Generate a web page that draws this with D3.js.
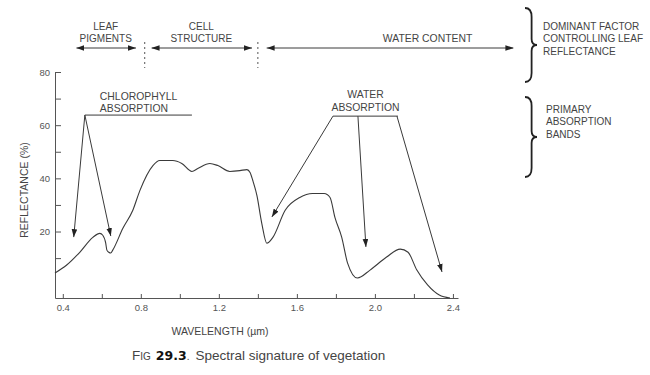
<!DOCTYPE html>
<html>
<head>
<meta charset="utf-8">
<script src="https://cdn.jsdelivr.net/npm/d3@7"></script>
<style>
  body { margin: 0; background: #fff; }
  svg { font-family: "Liberation Sans", Arial, sans-serif; }
</style>
</head>
<body>
<div id="chart"></div>
<script>
// reflectance curve of green vegetation
const wavelength = [0.36, 0.42, 0.487, 0.554, 0.59, 0.605, 0.62, 0.626, 0.636, 0.646, 0.656, 0.708, 0.759, 0.795,
  0.862, 0.897, 0.964, 1.01, 1.062, 1.092, 1.154, 1.195, 1.256, 1.308, 1.344, 1.36, 1.374, 1.395, 1.42, 1.446,
  1.477, 1.54, 1.615, 1.68, 1.74, 1.77, 1.795, 1.83, 1.86, 1.91, 1.975, 2.06, 2.13, 2.17, 2.215, 2.27, 2.33, 2.385];
const reflectance = [4.4, 7.4, 12.2, 17.8, 19.3, 18.6, 15.6, 13.0, 12.2, 11.9, 13.0, 21.2, 28.0, 35.4,
  44.8, 46.7, 46.7, 45.6, 42.6, 43.7, 45.6, 44.8, 42.6, 42.9, 43.3, 42.2, 39.2, 33.6, 23.1, 15.6,
  17.8, 28.0, 32.8, 34.3, 34.3, 32.8, 25.3, 17.8, 8.1, 2.5, 5.5, 10.4, 13.4, 12.2, 5.5, -0.1, -3.9, -5];

const xTicks = [0.4, 0.6, 0.8, 1.0, 1.2, 1.4, 1.6, 1.8, 2.0, 2.2, 2.4];
const xLabels = [0.4, 0.8, 1.2, 1.6, 2.0, 2.4];
const yTicks = [10, 20, 30, 40, 50, 60, 70, 80];
const yLabels = [20, 40, 60, 80];

// dominant factor bands along the top (wavelength units)
const bandNames = [["LEAF", "PIGMENTS"], ["CELL", "STRUCTURE"], ["WATER CONTENT"]];
const bandStart = [0.47, 0.855, 1.445];
const bandEnd = [0.775, 1.37, 2.71];
const bandLabelAt = [0.62, 1.11, 2.27];
const bandDividers = [0.82, 1.40];

// absorption callouts: [wavelength, reflectance]
const chloroBar = [[0.513, 63.8], [1.062, 63.8]];
const chloroFrom = [[0.513, 63.8], [0.513, 63.8]];
const chloroTo = [[0.456, 17.9], [0.646, 18.3]];
const waterBar = [[1.785, 63.4], [2.118, 63.4]];
const waterFrom = [[1.785, 63.4], [1.913, 63.4], [2.113, 63.4]];
const waterTo = [[1.472, 25.5], [1.954, 14.2], [2.344, 4.8]];

const sideNotes = [["DOMINANT FACTOR", "CONTROLLING LEAF", "REFLECTANCE"], ["PRIMARY", "ABSORPTION", "BANDS"]];

const width = 650, height = 375;
const ink = "#3a3a3a", textInk = "#444";

const x = d3.scaleLinear().domain([0.36, 2.426]).range([55, 458]);
const y = d3.scaleLinear().domain([-5, 80]).range([298, 72]);

const svg = d3.select("#chart").append("svg")
  .attr("width", width)
  .attr("height", height);

// arrowhead
svg.append("defs").append("marker")
  .attr("id", "head")
  .attr("viewBox", "0 -3 8 6")
  .attr("refX", 8)
  .attr("refY", 0)
  .attr("markerUnits", "userSpaceOnUse")
  .attr("markerWidth", 8)
  .attr("markerHeight", 6)
  .attr("orient", "auto-start-reverse")
  .append("path")
  .attr("d", "M0,-2.8L8,0L0,2.8Z")
  .attr("fill", "#222");

// Axes
const xAxis = svg.append("g")
  .attr("transform", `translate(0,${y(-5)})`)
  .call(d3.axisBottom(x).tickValues(xTicks).tickSize(-4).tickSizeOuter(0).tickPadding(6)
    .tickFormat(d => xLabels.includes(d) ? d3.format(".1f")(d) : ""));

const yAxis = svg.append("g")
  .attr("transform", `translate(${x(0.36)},0)`)
  .call(d3.axisLeft(y).tickValues(yTicks).tickSize(-6).tickSizeOuter(0).tickPadding(5)
    .tickFormat(d => yLabels.includes(d) ? d : ""));

[xAxis, yAxis].forEach(g => {
  g.attr("font-family", null).attr("font-size", null);
  g.selectAll("path, line").attr("stroke", "#555");
  g.selectAll("text").attr("fill", "#555").style("font-size", "9.5px");
});

// Curve
const line = d3.line()
  .x((d, i) => x(wavelength[i]))
  .y(d => y(d))
  .curve(d3.curveMonotoneX);

svg.append("path")
  .datum(reflectance)
  .attr("fill", "none")
  .attr("stroke", ink)
  .attr("stroke-width", 1.1)
  .attr("d", line);

// Callouts
const pt = d => [x(d[0]), y(d[1])];
[chloroBar, waterBar].forEach(bar => {
  svg.append("line")
    .attr("x1", pt(bar[0])[0]).attr("y1", pt(bar[0])[1])
    .attr("x2", pt(bar[1])[0]).attr("y2", pt(bar[1])[1])
    .attr("stroke", ink);
});
[[chloroFrom, chloroTo], [waterFrom, waterTo]].forEach(([from, to]) => {
  svg.selectAll(null)
    .data(to)
    .enter()
    .append("line")
    .attr("x1", (d, i) => pt(from[i])[0])
    .attr("y1", (d, i) => pt(from[i])[1])
    .attr("x2", d => pt(d)[0])
    .attr("y2", d => pt(d)[1])
    .attr("stroke", ink)
    .attr("marker-end", "url(#head)");
});

const label = (lines, px, py, anchor, size, gap) => {
  const t = svg.append("text")
    .attr("text-anchor", anchor)
    .style("font-size", size + "px")
    .attr("fill", textInk);
  lines.forEach((s, i) => t.append("tspan").attr("x", px).attr("y", py + i * gap).text(s));
  return t;
};

label(["CHLOROPHYLL", "ABSORPTION"], x(0.513) + 15, y(63.8) - 15, "start", 10.4, 12);
label(["WATER", "ABSORPTION"], x(1.952), y(63.4) - 18, "middle", 10.4, 13);

// Bands along the top
const bandY = 48;
bandNames.forEach((names, i) => {
  svg.append("line")
    .attr("x1", x(bandStart[i])).attr("x2", x(bandEnd[i]))
    .attr("y1", bandY).attr("y2", bandY)
    .attr("stroke", ink)
    .attr("marker-start", "url(#head)")
    .attr("marker-end", "url(#head)");
  const first = names.length === 1 ? 42 : 30;
  label(names, x(bandLabelAt[i]), first, "middle", names.length === 1 ? 10.4 : 10, 11.5);
});

svg.selectAll(".divider")
  .data(bandDividers)
  .enter()
  .append("line")
  .attr("x1", d => x(d)).attr("x2", d => x(d))
  .attr("y1", 42).attr("y2", 68)
  .attr("stroke", "#555")
  .attr("stroke-dasharray", "2,3");

// Braces with side notes
const brace = (x0, y0, y1, w) => {
  const ym = (y0 + y1) / 2, xm = x0 + w * 0.55, r = 9;
  return `M${x0},${y0} Q${xm},${y0} ${xm},${y0 + r} L${xm},${ym - 6} Q${xm},${ym} ${x0 + w},${ym}` +
    ` Q${xm},${ym} ${xm},${ym + 6} L${xm},${y1 - r} Q${xm},${y1} ${x0},${y1}`;
};
const braceTop = [8, 97], braceBottom = [82, 177], noteY = [29.5, 112.5], noteX = [543, 546];
sideNotes.forEach((lines, i) => {
  svg.append("path")
    .attr("d", brace(525, braceTop[i], braceBottom[i], 12))
    .attr("fill", "none")
    .attr("stroke", "#222")
    .attr("stroke-width", 1.8);
  label(lines, noteX[i], noteY[i], "start", 10, 12.8);
});

// Axis titles
svg.append("text")
  .attr("transform", "translate(27.5,190) rotate(-90)")
  .attr("text-anchor", "middle")
  .style("font-size", "10.5px")
  .attr("fill", textInk)
  .text("REFLECTANCE (%)");

svg.append("text")
  .attr("x", 220)
  .attr("y", 335)
  .attr("text-anchor", "middle")
  .style("font-size", "10.5px")
  .attr("fill", textInk)
  .text("WAVELENGTH (µm)");

// Caption
const cap = svg.append("text")
  .attr("x", 132)
  .attr("y", 360)
  .attr("fill", "#444")
  .style("font-size", "13.5px");
cap.append("tspan").text("F");
cap.append("tspan").style("font-size", "10px").text("IG");
cap.append("tspan")
  .attr("dx", 5)
  .style("font-family", "'DejaVu Sans', sans-serif")
  .style("font-weight", "bold")
  .style("font-size", "12.5px")
  .attr("fill", "#111")
  .text("29.3");
cap.append("tspan").style("font-size", "10px").text(".");
cap.append("tspan").attr("dx", 6).text("Spectral signature of vegetation");
</script>
</body>
</html>
